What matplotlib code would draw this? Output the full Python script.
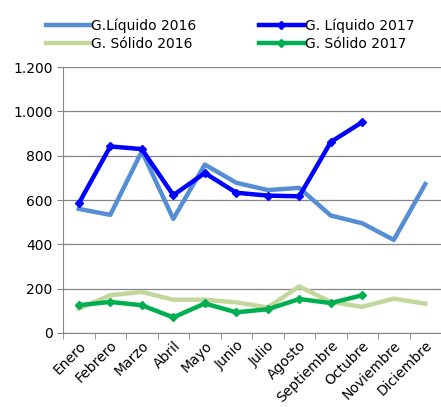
import matplotlib
matplotlib.use("Agg")
import matplotlib.pyplot as plt
from matplotlib.ticker import FuncFormatter, FixedLocator

plt.rcParams['font.family'] = ['DejaVu Sans']

meses = ['Enero', 'Febrero', 'Marzo', 'Abril', 'Mayo', 'Junio', 'Julio',
         'Agosto', 'Septiembre', 'Octubre', 'Noviembre', 'Diciembre']
liquido_2016 = [560, 533, 820, 515, 760, 678, 645, 655, 530, 495, 420, 672]
liquido_2017 = [585, 842, 830, 622, 722, 633, 620, 617, 862, 952]
solido_2016 = [110, 170, 185, 150, 150, 138, 115, 210, 140, 118, 155, 132]
solido_2017 = [125, 140, 125, 70, 133, 93, 107, 153, 135, 170]

fig = plt.figure(figsize=(4.41, 4.07), dpi=100)
ax = fig.add_axes([0.143, 0.182, 0.857, 0.653])

x16 = range(len(meses))
ax.plot(x16, liquido_2016, color='#558ED5', lw=3.2, label='G.Líquido 2016')
ax.plot(range(len(liquido_2017)), liquido_2017, color='#0000FF', lw=3.2,
        marker='D', ms=4, label='G. Líquido 2017')
ax.plot(x16, solido_2016, color='#C3D69B', lw=3.2, label='G. Sólido 2016')
ax.plot(range(len(solido_2017)), solido_2017, color='#00B050', lw=3.2,
        marker='D', ms=4, label='G. Sólido 2017')

ax.set_xlim(-0.5, len(meses) - 0.5)
ax.set_ylim(0, 1200)
ax.set_yticks(range(0, 1201, 200))
ax.yaxis.set_major_formatter(FuncFormatter(lambda v, p: f'{int(v):,}'.replace(',', '.')))
ax.set_xticks(list(x16))
ax.set_xticklabels(meses, rotation=45, ha='right', rotation_mode='anchor')
ax.xaxis.set_minor_locator(FixedLocator([i - 0.5 for i in range(len(meses) + 1)]))
ax.tick_params(axis='x', which='major', length=0, pad=4, labelsize=10)
ax.tick_params(axis='x', which='minor', length=4, color='#868686')
ax.tick_params(axis='y', length=4, color='#868686', labelsize=10)

ax.grid(axis='y', color='#868686', lw=0.9)
ax.set_axisbelow(True)
for s in ['top', 'right']:
    ax.spines[s].set_visible(False)
for s in ['left', 'bottom']:
    ax.spines[s].set_color('#868686')

handles, labels = ax.get_legend_handles_labels()
order = [0, 2, 1, 3]
fig.legend([handles[i] for i in order], [labels[i] for i in order],
           ncol=2, loc='upper left', bbox_to_anchor=(0.075, 0.985),
           frameon=False, fontsize=10, handlelength=3.2, handletextpad=0.1,
           columnspacing=4.5, labelspacing=0.25)

fig.savefig('out.png', dpi=100)
